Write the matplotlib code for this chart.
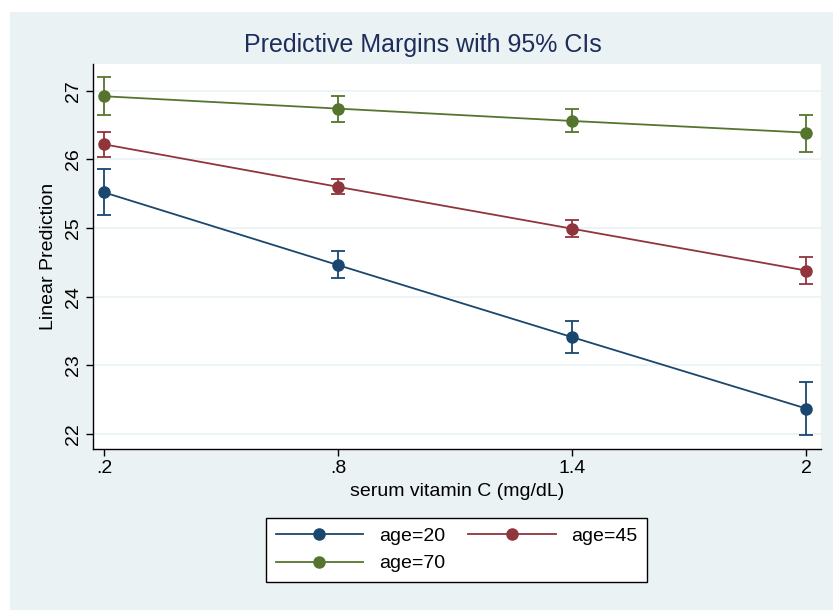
import matplotlib
matplotlib.use("Agg")
import matplotlib.pyplot as plt
from matplotlib.patches import Rectangle
from matplotlib import font_manager

names = {f.name for f in font_manager.fontManager.ttflist}
fam = ['Liberation Sans Narrow', 'Liberation Sans', 'DejaVu Sans']
fam = [f for f in fam if f in names] or ['DejaVu Sans']
plt.rcParams['font.family'] = fam

x_vals = [0.2, 0.8, 1.4, 2.0]
x_ticklabels = ['.2', '.8', '1.4', '2']
y_ticks = [22, 23, 24, 25, 26, 27]

labels = ['age=20', 'age=45', 'age=70']
means = {
    'age=20': [25.52, 24.46, 23.41, 22.37],
    'age=45': [26.22, 25.60, 24.99, 24.38],
    'age=70': [26.92, 26.74, 26.56, 26.39],
}
lower = {
    'age=20': [25.19, 24.27, 23.18, 21.98],
    'age=45': [26.04, 25.49, 24.87, 24.18],
    'age=70': [26.65, 26.55, 26.40, 26.11],
}
upper = {
    'age=20': [25.86, 24.67, 23.64, 22.76],
    'age=45': [26.40, 25.71, 25.12, 24.58],
    'age=70': [27.20, 26.92, 26.74, 26.65],
}
colors = {'age=20': '#1A476F', 'age=45': '#90353B', 'age=70': '#55752F'}

fig = plt.figure(figsize=(8.33, 6.10), dpi=100)
fig.patch.set_facecolor('white')
fig.patches.append(Rectangle((10/833, 0), 1 - 10/833, 1 - 12/610,
                             transform=fig.transFigure, facecolor='#EAF2F3',
                             edgecolor='none', zorder=-10))

ax = fig.add_axes([93/833, 1 - 449/610, (821 - 93)/833, (449 - 64)/610])
ax.set_facecolor('white')
for s in ['top', 'right']:
    ax.spines[s].set_visible(False)
for s in ['left', 'bottom']:
    ax.spines[s].set_color('black')
    ax.spines[s].set_linewidth(1.0)

ax.set_xlim(0.172, 2.038)
ax.set_ylim(21.78, 27.39)
ax.set_yticks(y_ticks)
ax.set_yticklabels([str(t) for t in y_ticks], rotation=90, va='center', fontsize=14)
ax.set_xticks(x_vals)
ax.set_xticklabels(x_ticklabels, fontsize=14)
ax.tick_params(axis='both', length=5, width=1, color='black', pad=3)
ax.yaxis.grid(True, color='#EAF2F3', linewidth=1.2)
ax.set_axisbelow(True)

handles = {}
for lab in labels:
    m = means[lab]
    lo = [a - b for a, b in zip(m, lower[lab])]
    hi = [b - a for a, b in zip(m, upper[lab])]
    ax.errorbar(x_vals, m, yerr=[lo, hi], fmt='none', ecolor=colors[lab],
                elinewidth=1.3, capsize=5, capthick=1.3, zorder=3)
    h, = ax.plot(x_vals, m, color=colors[lab], linewidth=1.3, marker='o',
                 markersize=8, zorder=4, label=lab)
    handles[lab] = h

ax.set_ylabel('Linear Prediction', fontsize=14, labelpad=6)
ax.set_xlabel('serum vitamin C (mg/dL)', fontsize=14, labelpad=4)
fig.text(0.5 + 6/833, 1 - 45/610, 'Predictive Margins with 95% CIs',
         ha='center', va='center', fontsize=18, color='#1E2D5C')

# legend filled row-wise: age=20, age=45 / age=70
order = ['age=20', 'age=70', 'age=45']
leg = fig.legend(handles=[handles[k] for k in order], labels=order, ncol=2,
                 loc='center', bbox_to_anchor=((270 + 643) / 2 / 833, 1 - 550/610),
                 frameon=True, fancybox=False, edgecolor='black', facecolor='white',
                 framealpha=1, fontsize=14, handlelength=4.5, columnspacing=1.2,
                 borderpad=0.5, labelspacing=0.5)
leg.get_frame().set_linewidth(1.0)

fig.savefig('out.png', dpi=100, facecolor=fig.get_facecolor())
